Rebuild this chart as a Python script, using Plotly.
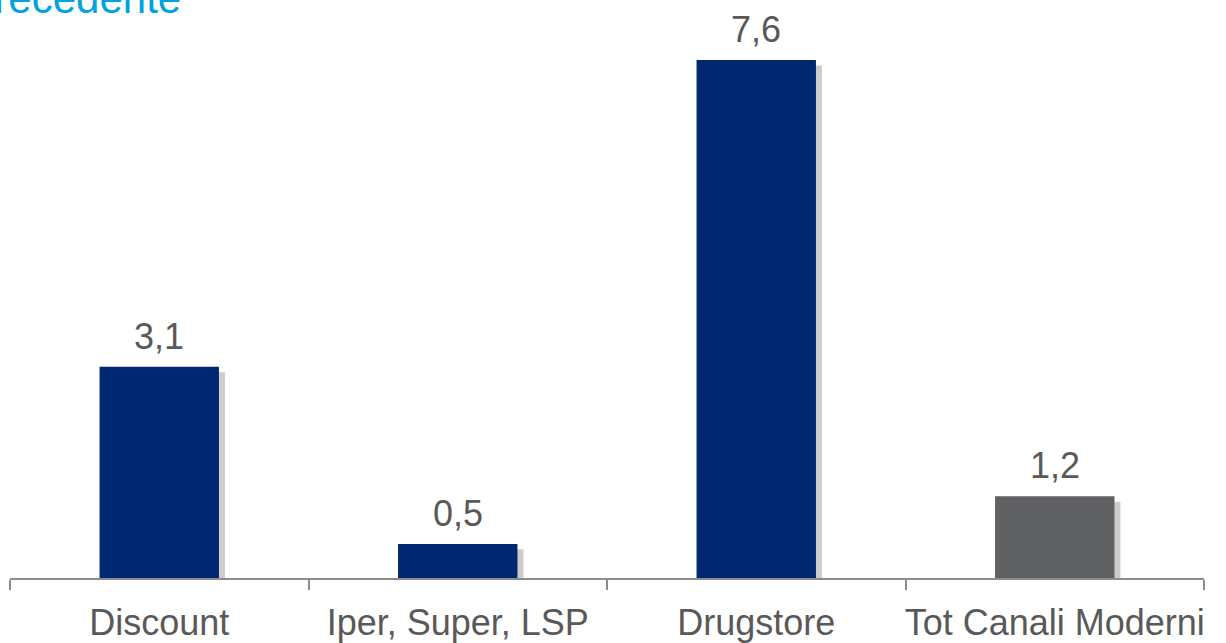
import plotly.graph_objects as go

categories = ["Discount", "Iper, Super, LSP", "Drugstore", "Tot Canali Moderni"]
values = [3.1, 0.5, 7.6, 1.2]
value_labels = ["3,1", "0,5", "7,6", "1,2"]
bar_colors = ["#002870", "#002870", "#002870", "#606163"]
title_text = "precedente"

FONT = "Liberation Sans, Arial"

fig = go.Figure()

# soft shadow behind bars
fig.add_trace(go.Bar(
    x=categories, y=[v - 0.03 for v in values], base=-0.05,
    width=0.4, offset=-0.18,
    marker=dict(color="rgba(0,0,0,0.20)", line=dict(width=0)),
    hoverinfo="skip", showlegend=False,
))

fig.add_trace(go.Bar(
    x=categories, y=values,
    width=0.4, offset=-0.2,
    marker=dict(color=bar_colors, line=dict(width=0)),
    showlegend=False,
))

annotations = [dict(
    x=c, y=v, xref="x", yref="y", text=t, showarrow=False,
    yanchor="bottom", yshift=8,
    font=dict(family=FONT, size=36, color="#595959"),
) for c, v, t in zip(categories, values, value_labels)]

annotations.append(dict(
    text=title_text, xref="paper", yref="paper", x=0, y=1,
    xanchor="left", yanchor="bottom", xshift=-41, yshift=-24,
    showarrow=False,
    font=dict(family=FONT, size=42, color="#00A3E0"),
))

fig.update_layout(
    width=1226, height=643,
    margin=dict(l=10, r=22, t=0, b=65),
    paper_bgcolor="white", plot_bgcolor="white",
    barmode="overlay",
    xaxis=dict(
        type="category", automargin=False, tickangle=0,
        showline=True, linecolor="#8c8c8c", linewidth=1.5,
        ticks="outside", tickson="boundaries", ticklen=10, tickcolor="#8c8c8c", tickwidth=1.5,
        tickfont=dict(family=FONT, size=36, color="#595959"),
        showgrid=False, zeroline=False,
        ticklabelstandoff=12,
    ),
    yaxis=dict(
        range=[0, 8.48], visible=False, showgrid=False, zeroline=False,
    ),
    annotations=annotations,
)

fig.write_html("out.html")
